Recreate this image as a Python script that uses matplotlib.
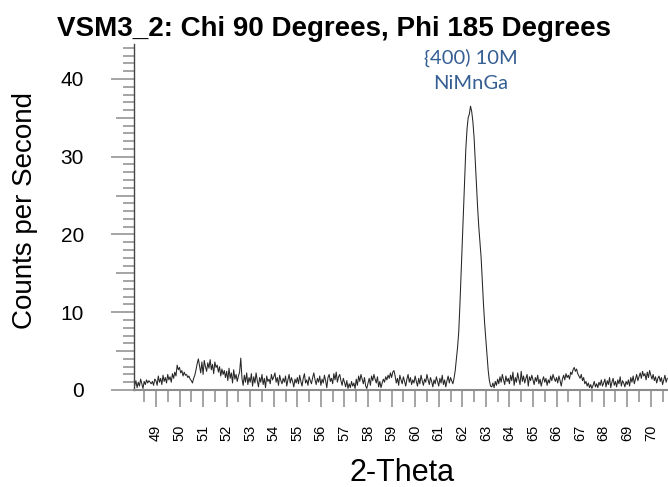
'''XRD scan VSM3_2, chi 90 / phi 185'''

import numpy as np
import matplotlib
matplotlib.use('Agg')
import matplotlib.pyplot as plt
from matplotlib.ticker import FixedLocator, MultipleLocator, FuncFormatter

plt.rcParams['font.family'] = ['Liberation Sans', 'DejaVu Sans']

title = 'VSM3_2: Chi 90 Degrees, Phi 185 Degrees'
peak_label = '{400) 10M\nNiMnGa'
peak_pos = 62.35   # 2-theta of the labelled peak
peak_top = 36.5

two_theta_start = 48.10
two_theta_step = 0.05
# counts per second, every 0.05 deg
cps = [
	0.6,1.2,0.3,1.0,0.5,1.4,0.8,0.2,1.1,0.7,1.3,0.9,1.2,1.0,0.8,1.1,0.6,1.4,  # 48.10-48.95
	1.2,0.6,1.8,1.0,1.5,0.7,1.9,1.1,1.6,0.9,2.0,1.3,1.7,1.0,2.1,1.5,2.3,1.8,3.2,2.6,  # 49
	2.9,2.2,2.5,1.8,2.3,1.9,2.0,1.6,1.8,1.4,1.2,0.9,1.5,1.9,2.6,3.4,4.0,3.1,2.2,3.6,  # 50
	2.0,3.8,3.0,2.4,3.5,2.8,3.9,2.6,3.3,2.1,3.6,2.9,3.2,2.3,3.0,1.8,2.7,2.0,2.5,1.6,  # 51
	2.4,1.2,2.8,1.5,2.2,0.9,2.6,1.4,2.0,1.1,1.8,2.3,4.1,1.5,0.6,1.9,1.0,2.2,0.7,1.6,  # 52
	1.0,2.1,0.5,1.7,0.9,2.2,1.2,0.4,1.6,1.0,2.0,0.7,1.5,0.3,1.8,1.1,1.4,0.8,2.0,1.3,  # 53
	1.7,2.2,1.0,1.6,0.6,1.9,1.2,0.8,1.5,1.0,1.8,0.5,1.3,2.0,0.9,1.6,1.1,0.4,1.4,0.9,  # 54
	1.6,0.8,1.9,1.1,0.5,1.5,2.1,0.9,1.3,0.6,1.7,1.2,0.8,1.6,2.2,1.3,0.7,1.5,1.0,1.8,  # 55
	0.6,1.4,0.9,1.9,1.2,0.3,1.6,2.0,1.1,1.5,0.8,2.1,1.3,2.3,1.0,1.7,2.0,1.2,0.6,1.5,  # 56
	1.0,0.4,1.2,0.2,0.8,0.3,1.1,0.5,0.9,0.2,1.4,0.6,1.8,1.1,2.0,1.4,0.8,1.6,0.5,0.2,  # 57
	0.9,1.5,0.6,1.8,1.2,2.0,1.4,0.9,1.7,0.4,1.1,0.3,0.9,1.4,1.0,1.7,1.3,1.9,1.5,2.2,  # 58
	1.6,2.3,2.5,1.8,0.9,1.5,0.6,1.9,1.3,0.8,1.7,1.1,0.5,1.4,2.0,1.0,1.6,0.7,1.3,0.9,  # 59
	1.8,1.1,0.5,1.5,0.8,1.9,1.2,0.6,1.4,1.0,2.0,1.3,0.7,1.6,1.1,0.4,1.3,0.8,1.7,1.1,  # 60
	0.5,1.5,0.9,1.9,0.7,1.3,0.4,1.2,1.8,0.9,1.6,1.2,  # 61.00-61.55
	0.8,1.5,2.5,4.0,5.5,7.5,11,15,19,23,27,31,33.5,35,35.5,  # peak 61.60-62.30
	36.5,35.8,34.5,32.5,29.5,26.5,23.5,21,19,17,14,11,8.5,6.5,4.5,2.5,1.2,0.5,  # 62.35-63.20
	0.4,0.9,0.3,1.1,0.6,1.4,0.8,1.7,1.0,2.0,1.3,0.7,1.8,1.1,1.5,  # 63.25-63.95
	0.8,1.9,1.2,2.3,0.6,1.6,1.0,2.2,1.4,0.7,2.4,1.1,1.8,0.9,1.5,2.0,0.5,1.7,1.2,1.9,  # 64
	1.3,0.7,1.6,1.1,1.9,0.8,1.4,0.5,1.2,1.7,1.0,1.5,0.6,1.3,0.9,1.8,1.2,2.0,1.5,1.1,  # 65
	1.6,0.9,1.8,1.2,0.5,1.4,1.9,1.3,2.1,1.6,1.9,1.4,2.3,2.0,2.6,2.9,2.4,2.7,2.1,1.8,  # 66
	1.5,2.0,1.2,1.6,0.8,1.1,0.5,0.9,0.3,0.7,0.2,0.6,1.1,0.4,0.8,0.3,1.0,0.6,1.3,0.5,  # 67
	0.9,1.4,0.4,1.2,0.7,1.6,0.3,1.0,1.5,0.6,1.1,0.4,1.3,0.8,1.7,0.5,1.2,0.9,0.4,1.1,  # 68
	0.7,1.3,0.5,1.6,1.0,1.8,0.8,1.4,2.0,1.2,1.7,2.2,1.5,2.4,1.8,2.1,1.3,2.3,1.6,2.5,  # 69
	1.9,1.4,2.0,1.2,1.7,0.9,1.5,1.8,1.1,1.6,0.7,1.3,1.9,1.0,1.5,  # 70.00-70.70
]

xticks = list(range(49, 71))
yticks = [0, 5, 10, 15, 20, 25, 30, 35, 40]

two_theta = two_theta_start + two_theta_step*np.arange(len(cps))

tick_grey = '#8c8c8c'

fig = plt.figure(figsize=(6.68, 4.87), dpi=100)
ax = fig.add_axes([0.201, 0.1992, 0.799, 0.7105])
ax.plot(two_theta, cps, color='#262626', lw=0.75)

ax.set_xlim(48.08, 70.73)
ax.set_ylim(0, 44.5)

for s in ['top', 'right']:
	ax.spines[s].set_visible(False)
ax.spines['left'].set_color('#444444')
ax.spines['left'].set_linewidth(1.0)
ax.spines['bottom'].set_color(tick_grey)
ax.spines['bottom'].set_linewidth(1.5)

# x: long ticks on whole degrees, short ones on the halves
ax.xaxis.set_major_locator(FixedLocator(xticks))
ax.xaxis.set_minor_locator(MultipleLocator(0.5))
ax.tick_params(axis='x', which='major', length=12, width=1.1, color=tick_grey,
	pad=13, labelsize=10.5, labelrotation=90)
ax.tick_params(axis='x', which='minor', length=8.5, width=1.1, color=tick_grey)

# y: long ticks at 10s, medium at 5s, short every 1
ax.yaxis.set_major_locator(FixedLocator(yticks))
ax.yaxis.set_minor_locator(MultipleLocator(1))
ax.yaxis.set_major_formatter(FuncFormatter(lambda v, p: '' if v % 10 else '%d' % v))
ax.tick_params(axis='y', which='major', length=16.3, width=1.1, color=tick_grey,
	pad=20, labelsize=15)
ax.tick_params(axis='y', which='minor', length=8, width=1.1, color=tick_grey)
for t, v in zip(ax.yaxis.get_major_ticks(), yticks):
	if v % 10:
		t.tick1line.set_markersize(13)

ax.set_xlabel('2-Theta', fontsize=22)
ax.xaxis.label.set_va('center')
ax.xaxis.set_label_coords(0.502, -0.24)
ax.set_ylabel('Counts per Second', fontsize=20)
ax.yaxis.label.set_va('center')
ax.yaxis.set_label_coords(-0.205, 0.52)
fig.suptitle(title, fontsize=20, fontweight='bold', y=0.967)

ax.annotate(peak_label, xy=(peak_pos, peak_top), xytext=(peak_pos, peak_top + 4.6),
	ha='center', va='center', color='#355e93', fontsize=14.5,
	family=['Lato', 'DejaVu Sans'], linespacing=1.55)

plt.savefig('out.png', dpi=100)
